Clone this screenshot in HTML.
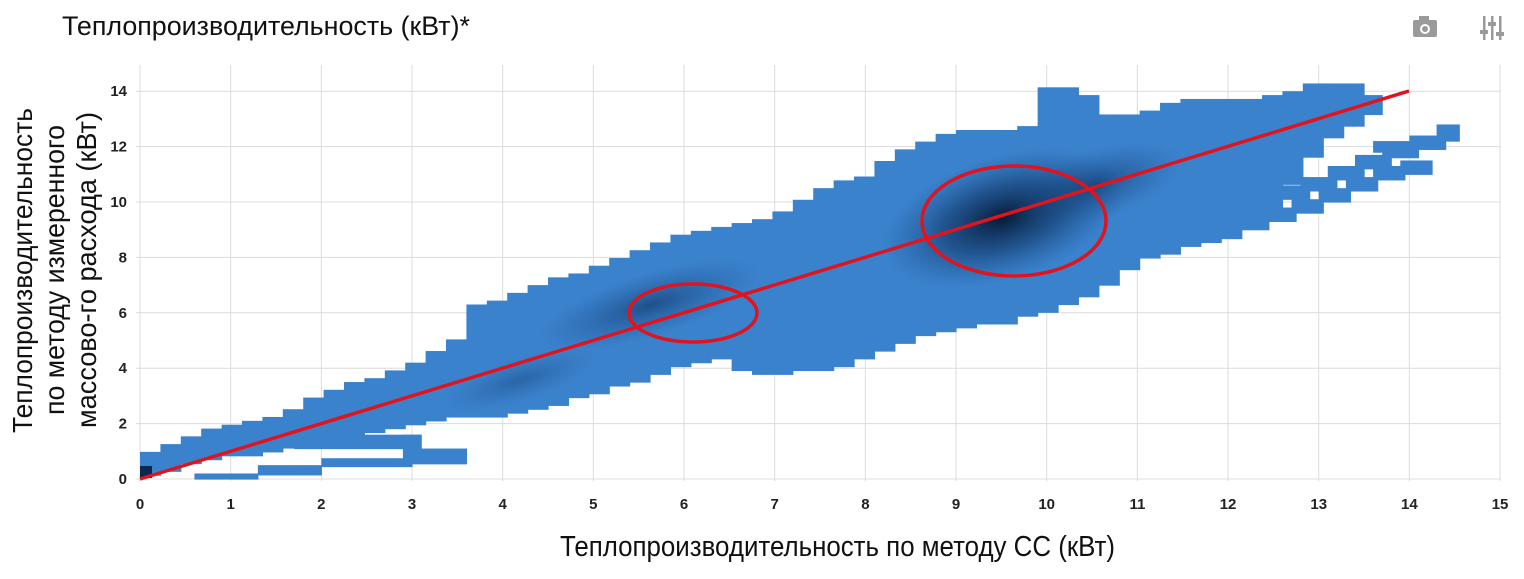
<!DOCTYPE html>
<html><head><meta charset="utf-8">
<style>
body{margin:0;background:#fff;width:1524px;height:574px;overflow:hidden;font-family:"Liberation Sans Narrow","Liberation Sans",sans-serif;}
</style></head><body>
<svg id="s" width="1524" height="574" xmlns="http://www.w3.org/2000/svg">
<defs>
<radialGradient id="g1"><stop offset="0" stop-color="#04152e" stop-opacity="0.95"/><stop offset="0.5" stop-color="#0c2f5c" stop-opacity="0.55"/><stop offset="1" stop-color="#1a4f8a" stop-opacity="0"/></radialGradient>
<radialGradient id="g2"><stop offset="0" stop-color="#0c2f5c" stop-opacity="0.6"/><stop offset="1" stop-color="#1a4f8a" stop-opacity="0"/></radialGradient>
<clipPath id="cp"></clipPath>
</defs>
<g id="grid" stroke="#dcdcdc" stroke-width="1"></g>
<g id="heat" fill="#3b82cd"></g>
<g clip-path="url(#cp)">
<ellipse cx="1003" cy="218" rx="125" ry="62" fill="url(#g1)" transform="rotate(-17 1003 218)"/>
<ellipse cx="1095" cy="185" rx="90" ry="35" fill="url(#g2)" transform="rotate(-17 1095 185)"/>
<ellipse cx="650" cy="305" rx="115" ry="32" fill="url(#g2)" transform="rotate(-17 650 305)"/>
<ellipse cx="520" cy="380" rx="80" ry="22" fill="url(#g2)" opacity="0.6" transform="rotate(-17 520 380)"/>
</g>
<rect x="140" y="466" width="12" height="12" fill="#0a2850"/>
<line x1="140" y1="479" x2="1409" y2="91" stroke="#e0141e" stroke-width="3.5"/>
<ellipse cx="1014" cy="221" rx="92" ry="55" fill="none" stroke="#e0141e" stroke-width="3.5"/>
<ellipse cx="693" cy="313" rx="64" ry="29" fill="none" stroke="#e0141e" stroke-width="3.5"/>
<g id="ticks" font-family="Liberation Sans, sans-serif" font-size="15" font-weight="bold" fill="#222"></g>
<text x="62" y="35" font-size="27" fill="#111" textLength="408" lengthAdjust="spacingAndGlyphs">Теплопроизводительность (кВт)*</text>
<text x="560" y="556" font-size="29" fill="#111" textLength="555" lengthAdjust="spacingAndGlyphs">Теплопроизводительность по методу СС (кВт)</text>
<g transform="translate(0,270) rotate(-90)" font-size="28" fill="#111">
<text x="-163" y="32" textLength="325" lengthAdjust="spacingAndGlyphs">Теплопроизводительность</text>
<text x="-145" y="64" textLength="290" lengthAdjust="spacingAndGlyphs">по методу измеренного</text>
<text x="-158" y="96" textLength="316" lengthAdjust="spacingAndGlyphs">массово-го расхода (кВт)</text>
</g>
<g fill="#9a9a9a">
<rect x="1413" y="20" width="24" height="17" rx="2"/><rect x="1419" y="16" width="10" height="6"/>
<circle cx="1425" cy="29" r="5" fill="#fff"/><circle cx="1425" cy="29" r="3"/>
<rect x="1483" y="16" width="2.5" height="24"/><rect x="1491" y="16" width="2.5" height="24"/><rect x="1499" y="16" width="2.5" height="24"/>
<rect x="1480" y="30" width="8" height="4"/><rect x="1488" y="22" width="8" height="4"/><rect x="1496" y="32" width="8" height="4"/>
</g>
</svg>
<script>
(function(){
var NS="http://www.w3.org/2000/svg";
function X(v){return 140+v*90.67;}function Y(v){return 479-v*27.7;}
function el(p,t,a){var e=document.createElementNS(NS,t);for(var k in a)e.setAttribute(k,a[k]);p.appendChild(e);return e;}
var grid=document.getElementById('grid'),ticks=document.getElementById('ticks');
for(var i=0;i<=15;i++){el(grid,'line',{x1:X(i),x2:X(i),y1:65,y2:481});var t=el(ticks,'text',{x:X(i),y:509,'text-anchor':'middle'});t.textContent=i;}
for(var j=0;j<=14;j+=2){el(grid,'line',{x1:136,x2:1500,y1:Y(j),y2:Y(j)});var t2=el(ticks,'text',{x:127,y:Y(j)+5,'text-anchor':'end'});t2.textContent=j;}
var topE=[[0,0.9],[0.5,1.5],[1,2.0],[1.5,2.2],[2,3.1],[2.5,3.6],[3,4.2],[3.5,5.0],[3.7,6.3],[4,6.5],[4.5,7.2],[5,7.6],[5.5,8.2],[6,8.9],[6.5,9.2],[7,9.5],[7.5,10.4],[8,11.0],[8.5,12.0],[9,12.6],[9.5,12.5],[9.95,12.8],[10.0,14.1],[10.45,14.1],[10.5,13.2],[11,13.2],[11.5,13.7],[12.5,13.8],[13,14.3],[13.5,14.3],[13.7,13.6]];
var botE=[[0,0],[0.6,0.6],[1,0.8],[1.5,1.0],[2,1.3],[3,1.9],[3.5,2.2],[4,2.2],[4.5,2.6],[5,3.1],[5.5,3.5],[6,4.1],[6.5,4.4],[6.7,3.8],[7.5,3.9],[8,4.3],[8.5,5.0],[9,5.5],[9.5,5.6],[10,6.0],[10.5,6.6],[11,7.8],[11.5,8.3],[12,8.6],[12.5,9.6],[13,11.9],[13.5,13.0],[13.7,13.4]];
function f(a,x){for(var i=1;i<a.length;i++){if(x<=a[i][0]){var t=(x-a[i-1][0])/(a[i][0]-a[i-1][0]);return a[i-1][1]+t*(a[i][1]-a[i-1][1]);}}return a[a.length-1][1];}
var heat=document.getElementById('heat'),cpg=document.getElementById('cp');
function R(x0,x1,y0,y1){var a={x:X(x0),y:Y(y1),width:X(x1)-X(x0)+0.6,height:Y(y0)-Y(y1)+0.6};el(heat,'rect',a);el(cpg,'rect',a);}
var w=0.225;
for(var x=0;x<13.7;x+=w){var c=x+w/2;var tp=Math.round(f(topE,c)/0.14)*0.14,bt=Math.round(f(botE,c)/0.14)*0.14;R(x,Math.min(x+w,13.7),bt,tp);}
R(0.6,1.3,0,0.2);R(1.3,2.0,0.15,0.5);R(2.0,3.0,0.45,0.75);R(2.9,3.6,0.55,1.1);R(1.7,3.1,1.1,1.6);R(2.9,3.1,0.75,1.6);
var A=[[11.8,8.7],[12.1,9.0],[12.4,9.3],[12.7,9.6],[13.0,10.0],[13.3,10.4],[13.6,10.8],[13.9,11.0]];
A.forEach(function(p){R(p[0],p[0]+0.35,p[1],p[1]+0.5);});
var B=[[12.5,10.1],[12.8,10.4],[13.1,10.8],[13.4,11.2],[13.7,11.6],[14.0,11.9]];
B.forEach(function(p){R(p[0],p[0]+0.4,p[1],p[1]+0.5);});
R(14.3,14.55,12.2,12.8);R(13.6,14.0,11.8,12.2);
})();
</script>
</body></html>
